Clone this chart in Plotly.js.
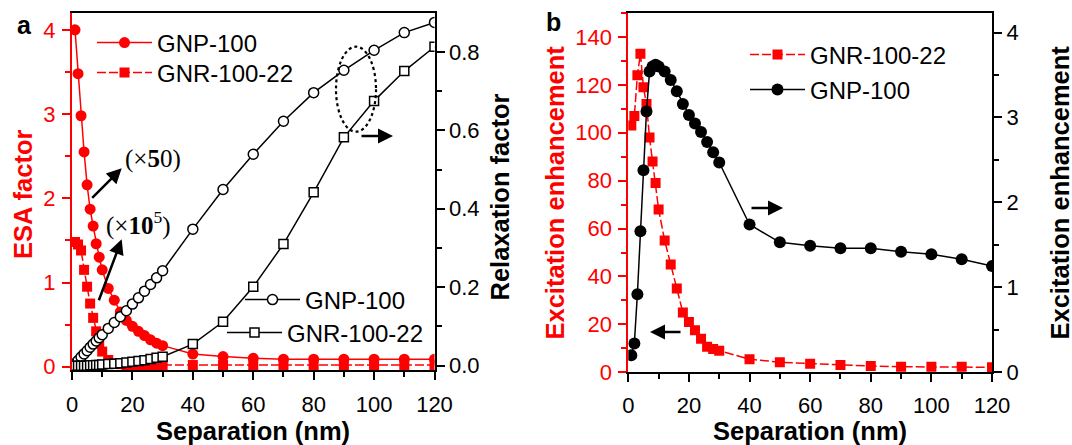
<!DOCTYPE html>
<html><head><meta charset="utf-8">
<script src="https://cdn.plot.ly/plotly-3.0.1.min.js"></script>
<style>html,body{margin:0;padding:0;background:#fff}</style>
</head><body><div id="chart" style="width:1072px;height:445px"></div>
<script>
// ---- data (Separation in nm) ----
const separation = [1,2,3,4,5,6,7,8,9,10,12,14,16,18,20,22,24,26,28,30,40,50,60,70,80,90,100,110,120];
// panel a : ESA factor (left axis)
const esaGNP100   = [4.0,3.48,2.98,2.55,2.16,1.87,1.67,1.46,1.30,1.15,0.93,0.79,0.65,0.55,0.48,0.42,0.37,0.32,0.28,0.25,0.15,0.12,0.10,0.09,0.09,0.09,0.09,0.09,0.09];
const esaGNR10022 = [1.48,1.45,1.38,1.15,0.95,0.75,0.58,0.42,0.28,0.18,0.08,0.04,0.03,0.02,0.02,0.02,0.02,0.02,0.02,0.02,0.02,0.02,0.02,0.02,0.02,0.02,0.02,0.02,0.02];
// panel a : Relaxation factor (right axis)
const relaxGNP100   = [0.005,0.013,0.022,0.030,0.038,0.047,0.055,0.063,0.071,0.079,0.095,0.110,0.125,0.140,0.157,0.173,0.190,0.207,0.224,0.242,0.348,0.449,0.539,0.623,0.696,0.753,0.804,0.849,0.875];
const relaxGNR10022 = [0,0,0,0,0,0.001,0.001,0.002,0.002,0.003,0.004,0.005,0.006,0.008,0.010,0.012,0.014,0.017,0.020,0.023,0.055,0.112,0.201,0.310,0.442,0.582,0.675,0.751,0.813];
// panel b : Excitation enhancement
const excGNR10022 = [103,107,124,133,119,112,98,88,79,68,55,45,35,25,21,17.6,14,10.7,9.7,9.0,5.5,4.2,3.6,3.0,2.6,2.3,2.3,2.3,2.1];
const excGNP100   = [0.20,0.34,0.92,1.66,2.38,3.07,3.54,3.60,3.62,3.60,3.54,3.44,3.31,3.16,3.03,2.93,2.83,2.71,2.59,2.47,1.74,1.53,1.49,1.46,1.46,1.42,1.39,1.33,1.25];
// labels
const nameGNP = 'GNP-100';
const nameGNR = 'GNR-100-22';
const xTitle = 'Separation (nm)';

const RED = '#ff0000';
const SANS = 'Liberation Sans, Arial, sans-serif';
const SERIF = 'Liberation Serif, Times New Roman, serif';
const W = 1072, H = 445;
const px = v => v / W;
const py = v => 1 - v / H;

const traces = [
  {x: separation, y: esaGNP100, xaxis:'x', yaxis:'y', name:nameGNP, legend:'legend',
   mode:'lines+markers', line:{color:RED, width:1.5}, marker:{symbol:'circle', size:11, color:RED}},
  {x: separation, y: esaGNR10022, xaxis:'x', yaxis:'y', name:nameGNR, legend:'legend2',
   mode:'lines+markers', line:{color:RED, width:1.5, dash:'9px,3px'}, marker:{symbol:'square', size:10, color:RED}},
  {x: separation, y: relaxGNP100, xaxis:'x', yaxis:'y2', name:nameGNP, legend:'legend3',
   mode:'lines+markers', line:{color:'black', width:1.5}, marker:{symbol:'circle', size:10, color:'white', line:{color:'black', width:1.5}}},
  {x: separation, y: relaxGNR10022, xaxis:'x', yaxis:'y2', name:nameGNR, legend:'legend4',
   mode:'lines+markers', line:{color:'black', width:1.5}, marker:{symbol:'square', size:9, color:'white', line:{color:'black', width:1.5}}},
  {x: separation, y: excGNR10022, xaxis:'x2', yaxis:'y3', name:nameGNR, legend:'legend5',
   mode:'lines+markers', line:{color:RED, width:1.5, dash:'9px,3px'}, marker:{symbol:'square', size:10, color:RED}},
  {x: separation, y: excGNP100, xaxis:'x2', yaxis:'y4', name:nameGNP, legend:'legend6',
   mode:'lines+markers', line:{color:'black', width:1.5}, marker:{symbol:'circle', size:12, color:'black'}}
];

const tickfont = c => ({family:SANS, size:22, color:c});
function xax(dom, anchor, standoff){
  return {domain:dom, anchor:anchor, range:[0,120], showline:true, linecolor:'black', linewidth:2, mirror:true,
    ticks:'outside', ticklen:8, tickwidth:2, tickcolor:'black', dtick:20, tick0:0,
    minor:{dtick:10, ticks:'outside', ticklen:5, tickwidth:2, tickcolor:'black'},
    tickfont:tickfont('black'), showgrid:false, zeroline:false, ticklabelstandoff:standoff};
}
function yax(opts, color){
  return Object.assign({showline:true, linecolor:color, linewidth:2, ticks:'outside', ticklen:8, tickwidth:2, tickcolor:color,
    tickfont:tickfont(color), showgrid:false, zeroline:false, ticklabelstandoff:2}, opts);
}
const leg = (x, y) => ({x:px(x), y:py(y), xanchor:'left', yanchor:'middle', bgcolor:'rgba(0,0,0,0)',
   font:{family:SANS, size:24, color:'black'}, itemwidth:55, borderwidth:0});

const arrow = (tx, ty, hx, hy) => ({xref:'paper', yref:'paper', x:px(hx), y:py(hy), ax:tx-hx, ay:ty-hy,
   axref:'pixel', ayref:'pixel', text:'', showarrow:true, arrowhead:2, arrowsize:1.2, arrowwidth:2.5, arrowcolor:'black'});
const label = (text, x, y, opts) => Object.assign({xref:'paper', yref:'paper', x:px(x), y:py(y), text:text,
   showarrow:false, xanchor:'center', yanchor:'middle'}, opts);
const titleFont = c => ({family:SANS, size:25.5, color:c, weight:'bold'});

const layout = {
  width:W, height:H, margin:{l:0,r:0,t:0,b:0}, paper_bgcolor:'white', plot_bgcolor:'rgba(0,0,0,0)',
  showlegend:true,
  xaxis: xax([72/W, 434.5/W], 'y', 6),
  yaxis: yax({domain:[py(370), py(13)], anchor:'x', range:[-0.039, 4.20], dtick:1, tick0:0,
     minor:{dtick:0.5, ticks:'outside', ticklen:5, tickwidth:2, tickcolor:RED}}, RED),
  yaxis2: yax({overlaying:'y', side:'right', anchor:'x', range:[-0.011, 0.899], dtick:0.2, tick0:0, tickformat:'.1f',
     ticklabelstandoff:0, minor:{dtick:0.1, ticks:'outside', ticklen:5, tickwidth:2, tickcolor:'black'}}, 'black'),
  xaxis2: xax([628.3/W, 992/W], 'y3', 4),
  yaxis3: yax({domain:[py(372.3), py(13)], anchor:'x2', range:[0,150], dtick:20, tick0:0,
     minor:{dtick:10, ticks:'outside', ticklen:5, tickwidth:2, tickcolor:RED}}, RED),
  yaxis4: yax({overlaying:'y3', side:'right', anchor:'x2', range:[0,4.23], dtick:1, tick0:0,
     ticklabelstandoff:0, minor:{dtick:0.5, ticks:'outside', ticklen:5, tickwidth:2, tickcolor:'black'}}, 'black'),
  legend: leg(92, 43), legend2: leg(92, 73),
  legend3: leg(240, 300), legend4: leg(222, 333),
  legend5: leg(745, 55), legend6: leg(745, 90),
  shapes: [
    {type:'circle', xref:'paper', yref:'paper', x0:px(336), x1:px(376), y0:py(131.7), y1:py(46.7),
     line:{color:'black', width:2.2, dash:'dot'}}
  ],
  annotations: [
    label('a', 24.5, 25, {font:{family:SANS, size:25, color:'black', weight:'bold'}}),
    label('b', 553, 22, {font:{family:SANS, size:25, color:'black', weight:'bold'}}),
    label('ESA factor', 23, 195, {textangle:-90, font:titleFont(RED)}),
    label('Relaxation factor', 499, 197.5, {textangle:-90, font:titleFont('black')}),
    label('Excitation enhancement', 554, 192.5, {textangle:-90, font:titleFont(RED)}),
    label('Excitation enhancement', 1059, 192.5, {textangle:-90, font:titleFont('black')}),
    label(xTitle, 253, 430.5, {font:titleFont('black')}),
    label(xTitle, 810, 430.5, {font:titleFont('black')}),
    label('(×<b>5</b>0)', 152.5, 159, {font:{family:SERIF, size:25, color:'black'}}),
    label('(×<b>10</b><sup>5</sup>)', 138.7, 223, {font:{family:SERIF, size:25, color:'black'}}),
    arrow(90.7, 199.3, 121.7, 168.3),
    arrow(98.3, 301.7, 121.7, 239.3),
    arrow(360, 136, 393, 136),
    arrow(750, 208, 783, 208),
    arrow(682, 332, 650, 332)
  ]
};

Plotly.newPlot('chart', traces, layout, {staticPlot:true, displayModeBar:false});
</script></body></html>
